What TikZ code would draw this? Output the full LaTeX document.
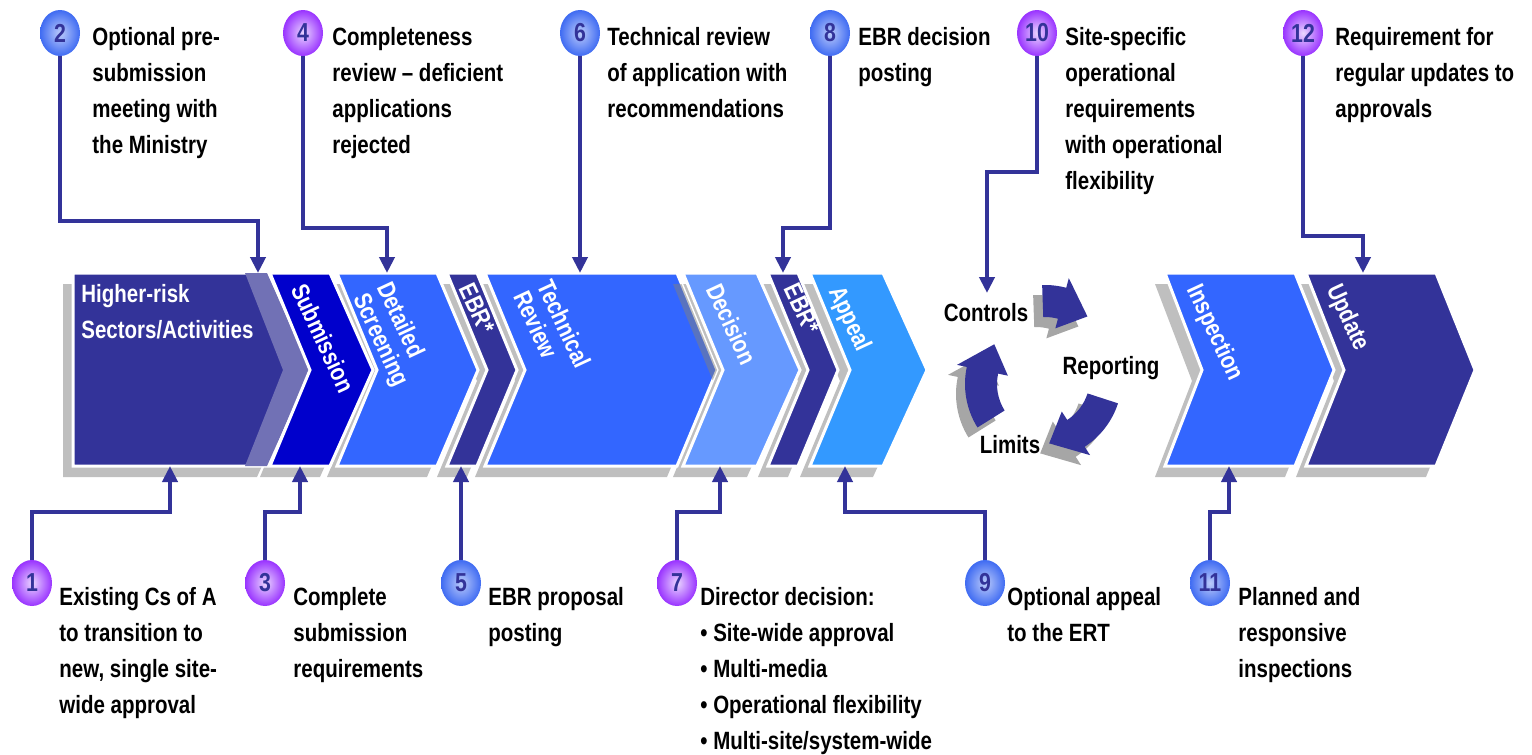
\documentclass[tikz,border=0pt]{standalone}
\usepackage{fontspec}
\setmainfont{Liberation Sans}[FakeStretch=0.82]
\usetikzlibrary{arrows.meta,positioning,shapes.geometric}
\definecolor{navy}{HTML}{333399}
\definecolor{subblue}{HTML}{0000CC}
\definecolor{midblue}{HTML}{3366FF}
\definecolor{decblue}{HTML}{6699FF}
\definecolor{appblue}{HTML}{3399FF}
\definecolor{shadowgray}{HTML}{BFBFBF}
\definecolor{cycgray}{HTML}{A6A6A6}
\definecolor{bandblue}{HTML}{7171B5}
\definecolor{ballblue}{HTML}{3F6BF2}
\definecolor{ballpurple}{HTML}{9933FF}

% chevron outline: left x, right x, tip depth, notch depth
\newcommand\chevpath[4]{(#1,273) -- (#2,273) -- ({#2+#3},370) -- (#2,466) -- (#1,466) -- ({#1+#4},370) -- cycle}
% fat arc arrow of the cycle, clockwise from #1 to #2
\newcommand\cycpath[2]{(#1:82) arc[start angle=#1, end angle={#2+25}, radius=82] -- ({#2+25}:92) -- (#2:66) -- ({#2+25}:40) -- ({#2+25}:50) arc[start angle={#2+25}, end angle=#1, radius=50] -- cycle}

\tikzset{
  txt/.style={anchor=north west, inner sep=0, align=left, font=\bfseries\fontsize{12.5}{18}\selectfont},
  ctxt/.style={anchor=north west, inner sep=0, align=left, text=white, rotate=-65, font=\bfseries\fontsize{12.5}{13}\selectfont},
  lbl/.style={inner sep=0, font=\bfseries\fontsize{12.5}{18}\selectfont},
  ball/.style={ellipse, minimum width=20pt, minimum height=23pt, inner sep=0, text=navy, font=\bfseries\fontsize{13}{13}\selectfont},
  bblue/.style={ball, inner color=white!65!ballblue, outer color=ballblue},
  bpurp/.style={ball, inner color=white!80!ballpurple, outer color=ballpurple},
  body/.style={draw=white, line width=1.5pt},
  conn/.style={draw=navy, line width=2pt, -{Triangle[width=7.5pt,length=8pt]}}
}

\begin{document}
\begin{tikzpicture}[x=0.5pt, y=-0.5pt]
\useasboundingbox (0,0) rectangle (1532,755);

% shadows
\foreach \xl/\xr/\d/\n in {73/267/43/0, 270/330/43/40, 337/437/41/40, 447/477/40/40,
    485/677/40/40, 683/757/43/40, 768/798/40/40, 810/883/44/40, 1165/1295/39/37, 1306/1436/39/38}
  \fill[shadowgray, shift={(-10,11)}] \chevpath{\xl}{\xr}{\d}{\n};

% chevrons
\filldraw[body, fill=navy] \chevpath{73}{267}{43}{0};
\fill[bandblue] (245,273) -- (267,273) -- (310,370) -- (267,466) -- (245,466) -- (283,370) -- cycle;
\filldraw[body, fill=subblue] \chevpath{270}{330}{43}{40};
\filldraw[body, fill=midblue] \chevpath{337}{437}{41}{40};
\filldraw[body, fill=navy] \chevpath{447}{477}{40}{40};
\filldraw[body, fill=midblue] \chevpath{485}{677}{40}{40};
\begin{scope}
  \clip \chevpath{485}{677}{40}{40};
  \fill[gray, opacity=.5, shift={(-10,11)}] \chevpath{683}{757}{43}{40};
\end{scope}
\filldraw[body, fill=decblue] \chevpath{683}{757}{43}{40};
\filldraw[body, fill=navy] \chevpath{768}{798}{40}{40};
\filldraw[body, fill=appblue] \chevpath{810}{883}{44}{40};
\filldraw[body, fill=midblue] \chevpath{1165}{1295}{39}{37};
\filldraw[body, fill=navy] \chevpath{1306}{1436}{39}{38};

% chevron labels
\node[txt, text=white] (lhigh) at (81,284) {Higher-risk\\Sectors/Activities};
\node[ctxt] (lsub) at (307,281) {Submission};
\node[ctxt] (lscr) at (393,279) {Detailed\\Screening};
\node[ctxt] (lebr1) at (474,281) {EBR*};
\node[ctxt] (ltech) at (553,277) {Technical\\Review};
\node[ctxt] (ldec) at (722,281) {Decision};
\node[ctxt] (lebr2) at (799,281) {EBR*};
\node[ctxt] (lapp) at (845,283) {Appeal};
\node[ctxt] (lins) at (1203,281) {Inspection};
\node[ctxt] (lupd) at (1343,281) {Update};

% cycle
\begin{scope}[shift={(1040,378)}, yscale=-1]
  \foreach \a/\b/\dx/\dy in {92/50/5/11, -18/-82/0/0, 212/143/7/-6}
    \fill[cycgray, shift={(\dx-9,\dy-10)}] \cycpath{\a}{\b};
  \foreach \a/\b/\dx/\dy in {92/50/5/11, -18/-82/0/0, 212/143/7/-6}
    \fill[navy, shift={(\dx,\dy)}] \cycpath{\a}{\b};
\end{scope}
\node[lbl] (lctrl) at (986,313) {Controls};
\node[lbl] (lrep) at (1111,368) {Reporting};
\node[lbl] (llim) at (1010,445) {Limits};

% numbered balls
\node[bblue] (n2) at (60,33) {2};
\node[bpurp] (n4) at (303,33) {4};
\node[bblue] (n6) at (580,33) {6};
\node[bblue] (n8) at (830,33) {8};
\node[bpurp] (n10) at (1037,33) {10};
\node[bpurp] (n12) at (1303,33) {12};
\node[bpurp] (n1) at (32,583) {1};
\node[bpurp] (n3) at (265,583) {3};
\node[bblue] (n5) at (461,583) {5};
\node[bpurp] (n7) at (677,583) {7};
\node[bblue] (n9) at (985,583) {9};
\node[bblue] (n11) at (1210,583) {11};

% notes
\node[txt] (t2) at (92,27) {Optional pre-\\submission\\meeting with\\the Ministry};
\node[txt] (t4) at (332,27) {Completeness\\review – deficient\\applications\\rejected};
\node[txt] (t6) at (607,27) {Technical review\\of application with\\recommendations};
\node[txt] (t8) at (858,27) {EBR decision\\posting};
\node[txt] (t10) at (1065,27) {Site-specific\\operational\\requirements\\with operational\\flexibility};
\node[txt] (t12) at (1335,27) {Requirement for\\regular updates to\\approvals};
\node[txt] (t1) at (59,587) {Existing Cs of A\\to transition to\\new, single site-\\wide approval};
\node[txt] (t3) at (293,587) {Complete\\submission\\requirements};
\node[txt] (t5) at (488,587) {EBR proposal\\posting};
\node[txt] (t7) at (700,587) {Director decision:\\\textbullet~Site-wide approval\\\textbullet~Multi-media\\\textbullet~Operational flexibility\\\textbullet~Multi-site/system-wide};
\node[txt] (t9) at (1007,587) {Optional appeal\\to the ERT};
\node[txt] (t11) at (1238,587) {Planned and\\responsive\\inspections};

% arrow ends
\coordinate (e2) at (258,273);
\coordinate (e4) at (387,273);
\coordinate (e6) at (580,273);
\coordinate (e8) at (783,273);
\coordinate (e10) at (987,293);
\coordinate (e12) at (1363,273);
\coordinate (e1) at (170,466);
\coordinate (e3) at (300,466);
\coordinate (e5) at (461,466);
\coordinate (e7) at (720,466);
\coordinate (e9) at (845,466);
\coordinate (e11) at (1229,466);

% edges
\draw[conn] (n2.south) -- ++(0,165) -| (e2);
\draw[conn] (n4.south) -- ++(0,172) -| (e4);
\draw[conn] (n6.south) -- (e6);
\draw[conn] (n8.south) -- ++(0,172) -| (e8);
\draw[conn] (n10.south) -- ++(0,116) -| (e10);
\draw[conn] (n12.south) -- ++(0,180) -| (e12);
\draw[conn] (n1.north) -- ++(0,-48) -| (e1);
\draw[conn] (n3.north) -- ++(0,-48) -| (e3);
\draw[conn] (n5.north) -- (e5);
\draw[conn] (n7.north) -- ++(0,-48) -| (e7);
\draw[conn] (n9.north) -- ++(0,-48) -| (e9);
\draw[conn] (n11.north) -- ++(0,-48) -| (e11);
\end{tikzpicture}
\end{document}
